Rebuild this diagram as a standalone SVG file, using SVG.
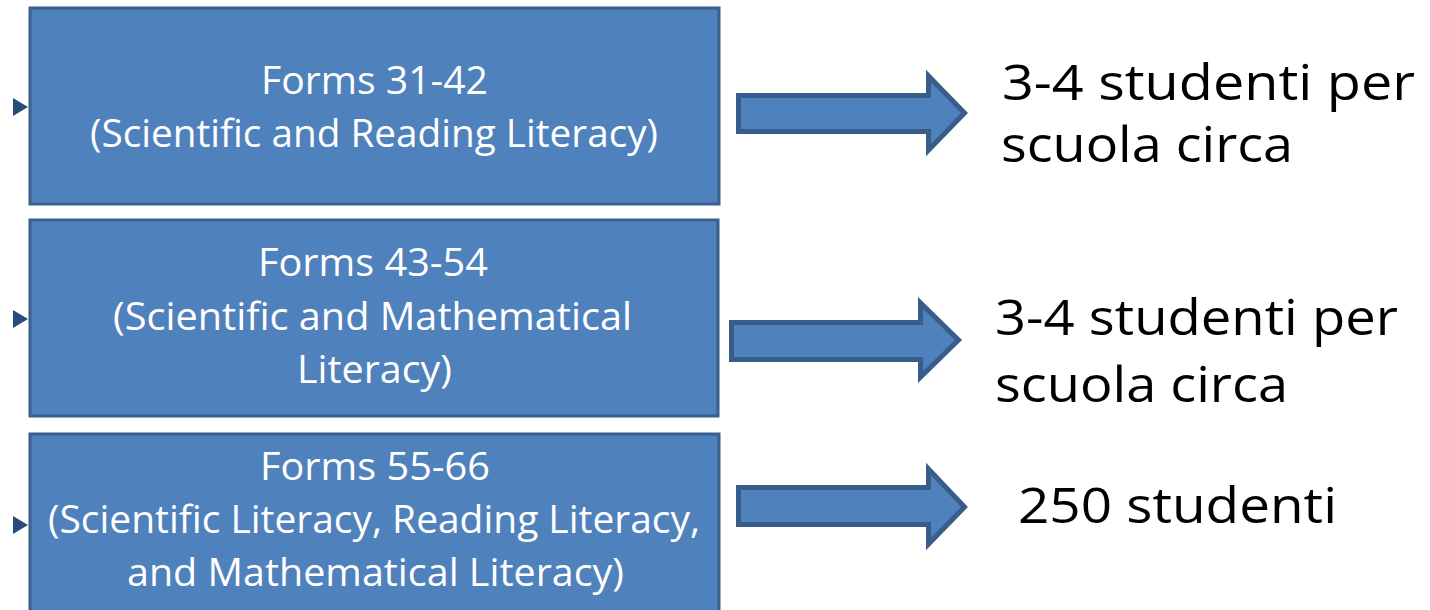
<svg xmlns="http://www.w3.org/2000/svg" width="1430" height="610" viewBox="0 0 1430 610">
<style>
.box{fill:#4F81BD;stroke:#3A5F8B;stroke-width:3}
.arr{fill:#4F81BD;stroke:#385D8A;stroke-width:5;stroke-linejoin:miter}
.tri{fill:#2A4C7A}
.bt{font-family:"Open Sans","Liberation Sans",Arial,sans-serif;font-size:38px;fill:#FFFFFF}
.rt{font-family:"Open Sans","Liberation Sans",Arial,sans-serif;font-size:50px;fill:#000000}
</style>
<rect width="1430" height="610" fill="#FFFFFF"/>
<g id="node1">
<rect class="box" x="30" y="8" width="689" height="196"/>
<polygon class="tri" points="13,98 28,107 13,116"/>
<text class="bt" x="261" y="94" textLength="227" lengthAdjust="spacingAndGlyphs">Forms 31-42</text>
<text class="bt" x="90" y="147" textLength="568" lengthAdjust="spacingAndGlyphs">(Scientific and Reading Literacy)</text>
</g>
<g id="node2">
<rect class="box" x="30" y="220" width="688" height="196"/>
<polygon class="tri" points="13,310 28,319 13,328"/>
<text class="bt" x="258" y="276" textLength="230" lengthAdjust="spacingAndGlyphs">Forms 43-54</text>
<text class="bt" x="113" y="330" textLength="519" lengthAdjust="spacingAndGlyphs">(Scientific and Mathematical</text>
<text class="bt" x="297" y="383" textLength="155" lengthAdjust="spacingAndGlyphs">Literacy)</text>
</g>
<g id="node3">
<rect class="box" x="30" y="434" width="689" height="190"/>
<polygon class="tri" points="13,516 28,525 13,534"/>
<text class="bt" x="260" y="480" textLength="230" lengthAdjust="spacingAndGlyphs">Forms 55-66</text>
<text class="bt" x="48" y="533" textLength="652" lengthAdjust="spacingAndGlyphs">(Scientific Literacy, Reading Literacy,</text>
<text class="bt" x="127" y="586" textLength="497" lengthAdjust="spacingAndGlyphs">and Mathematical Literacy)</text>
</g>
<g id="connectors">
<polygon class="arr" points="738.5,95.5 928.5,95.5 928.5,76 964.5,113 928.5,150 928.5,131.5 738.5,131.5"/>
<polygon class="arr" points="731.5,322.5 920.5,322.5 920.5,303 958.5,340 920.5,377 920.5,359.5 731.5,359.5"/>
<polygon class="arr" points="738.5,487.5 928.5,487.5 928.5,469 964.5,507 928.5,544 928.5,524.5 738.5,524.5"/>
</g>
<g id="label1">
<text class="rt" x="1002" y="100" textLength="413" lengthAdjust="spacingAndGlyphs">3-4 studenti per</text>
<text class="rt" x="1001" y="162" textLength="292" lengthAdjust="spacingAndGlyphs">scuola circa</text>
</g>
<g id="label2">
<text class="rt" x="995" y="335" textLength="403" lengthAdjust="spacingAndGlyphs">3-4 studenti per</text>
<text class="rt" x="995" y="402" textLength="293" lengthAdjust="spacingAndGlyphs">scuola circa</text>
</g>
<g id="label3">
<text class="rt" x="1018" y="523" textLength="319" lengthAdjust="spacingAndGlyphs">250 studenti</text>
</g>
</svg>
